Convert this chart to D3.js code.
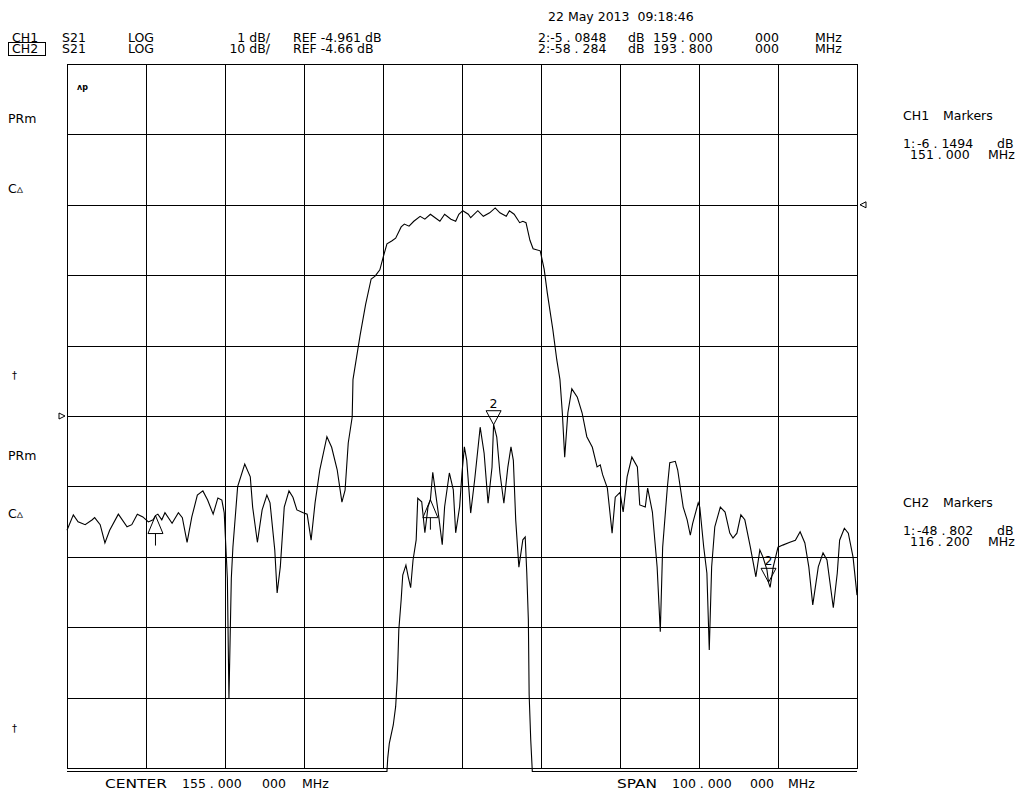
<!DOCTYPE html>
<meta charset="utf-8">
<style>

body {
  margin: 0;
  background: #fff;
}

svg text {
  font-family: "DejaVu Sans", "Liberation Sans", sans-serif;
  font-size: 12.5px;
  fill: #000;
  white-space: pre;
}

</style>
<svg width="1028" height="795"></svg>
<script src="https://cdn.jsdelivr.net/npm/d3@7/dist/d3.min.js"></script>
<script>

// sweep: center 155 MHz, span 100 MHz
var startMHz = 105,
    stopMHz = 205,
    divisions = 10;

// channel settings (reference value, dB per division, reference line counted from top)
var ch1Ref = -4.961, ch1PerDiv = 1, ch1RefLine = 5;
var ch2Ref = -4.66, ch2PerDiv = 10, ch2RefLine = 2;

// CH1 S21 trace (MHz / dB), values below the screen are pinned at the bottom
var ch1Freq = [105.0, 145.5, 145.6, 145.8, 146.3, 146.6, 146.8, 146.9, 147.0, 147.3,
  147.5, 147.9, 148.2, 148.5, 148.8, 149.2, 149.4, 149.9, 150.3, 150.7,
  151.0, 151.3, 152.0, 152.5, 152.8, 153.4, 153.9, 154.2, 154.7, 155.0,
  155.3, 155.6, 156.1, 156.6, 157.3, 157.8, 158.3, 158.8, 159.0, 159.4,
  159.8, 160.3, 160.8, 161.2, 161.5, 161.8, 162.2, 162.7, 163.0, 163.2,
  163.4, 163.5, 163.7, 163.9, 205.0];
var ch1Db = [-10.01, -10.01, -9.82, -9.61, -9.35, -9.09, -8.71, -8.38, -8.00, -7.57,
  -7.22, -7.08, -7.25, -7.40, -7.01, -6.72, -6.13, -6.18, -6.62, -6.25,
  -6.15, -5.76, -6.34, -6.79, -6.25, -5.77, -6.01, -6.62, -6.25, -5.77,
  -5.40, -5.59, -6.34, -5.87, -5.12, -5.49, -6.20, -5.69, -5.08, -5.26,
  -5.77, -6.20, -5.69, -5.40, -5.59, -6.44, -7.11, -6.72, -6.68, -7.19,
  -7.86, -8.92, -9.56, -10.01, -10.01];

// CH2 S21 trace (MHz / dB)
var ch2Freq = [105.0, 105.8, 106.4, 107.3, 108.2, 108.5, 109.2, 109.8, 110.4, 111.5,
  112.6, 113.2, 113.9, 114.6, 115.3, 115.9, 116.2, 116.5, 117.0, 117.4,
  118.3, 119.1, 119.6, 120.2, 120.8, 121.5, 122.2, 122.8, 123.5, 124.1,
  124.6, 124.9, 125.3, 125.5, 125.8, 126.0, 126.6, 127.5, 128.2, 128.5,
  129.1, 129.7, 130.3, 130.7, 131.3, 131.6, 132.0, 132.5, 133.1, 133.6,
  134.1, 134.9, 135.4, 135.9, 136.4, 137.0, 137.9, 138.5, 139.2, 139.8,
  140.2, 140.6, 141.1, 141.2, 141.6, 142.1, 142.8, 143.5, 144.0, 144.6,
  145.0, 145.5, 146.1, 146.6, 147.3, 147.7, 148.3, 148.9, 149.7, 150.3,
  151.0, 151.6, 152.2, 152.8, 153.6, 154.2, 154.6, 155.1, 155.8, 156.1,
  157.0, 157.7, 158.5, 159.2, 159.8, 160.6, 161.0, 161.6, 162.3, 162.7,
  163.1, 163.6, 164.0, 164.9, 165.4, 165.8, 166.5, 167.0, 167.4, 167.7,
  168.0, 168.4, 168.9, 169.6, 170.2, 170.8, 171.5, 172.1, 172.5, 172.8,
  173.4, 174.0, 174.4, 175.0, 175.4, 175.9, 176.5, 177.2, 177.5, 178.2,
  178.5, 179.1, 179.7, 180.1, 180.4, 181.0, 181.3, 182.0, 182.3, 183.0,
  183.5, 183.9, 184.2, 184.9, 185.1, 185.6, 186.0, 186.3, 186.6, 187.0,
  187.7, 188.3, 188.9, 189.3, 189.8, 190.3, 190.8, 191.5, 191.8, 192.2,
  192.7, 193.1, 193.6, 193.8, 194.0, 194.4, 195.0, 195.6, 196.5, 197.2,
  197.8, 198.4, 198.9, 199.4, 200.1, 200.7, 201.2, 202.0, 202.5, 202.8,
  203.4, 203.9, 204.5, 205.0];
var ch2Db = [-50.9, -48.7, -49.7, -50.1, -49.4, -49.1, -50.1, -52.7, -50.9, -48.6,
  -50.4, -50.1, -48.6, -49.0, -49.7, -49.4, -48.8, -48.6, -49.4, -48.4,
  -49.9, -48.4, -49.1, -52.6, -49.0, -45.9, -45.3, -46.6, -48.6, -46.3,
  -46.6, -48.4, -57.7, -74.8, -57.7, -53.3, -44.7, -41.5, -43.3, -47.6,
  -52.6, -48.0, -45.9, -47.0, -53.7, -59.8, -56.1, -47.6, -45.3, -46.2,
  -48.0, -48.4, -48.6, -52.3, -47.0, -42.3, -37.6, -39.1, -42.3, -46.9,
  -45.2, -38.5, -34.8, -29.5, -26.7, -23.2, -18.8, -15.2, -14.8, -13.9,
  -12.2, -10.2, -9.8, -9.4, -7.8, -7.4, -7.7, -7.0, -6.3, -6.7,
  -6.0, -6.5, -7.0, -6.0, -6.7, -7.0, -6.0, -5.5, -6.0, -6.5,
  -5.5, -6.3, -5.8, -5.1, -5.8, -6.3, -5.5, -6.0, -7.2, -7.0,
  -7.2, -9.7, -10.9, -11.2, -13.8, -17.2, -22.4, -26.7, -29.5, -34.2,
  -40.5, -34.2, -30.8, -32.0, -34.2, -37.6, -39.1, -41.9, -41.6, -43.0,
  -44.9, -51.3, -46.2, -45.5, -48.3, -43.3, -40.5, -41.9, -47.3, -47.6,
  -44.9, -48.3, -56.1, -65.3, -53.3, -44.7, -41.3, -41.1, -42.3, -47.6,
  -49.4, -51.6, -49.9, -47.0, -47.6, -53.3, -57.0, -67.9, -56.1, -50.4,
  -47.6, -48.3, -51.3, -52.0, -51.3, -48.7, -49.4, -53.3, -55.1, -57.5,
  -53.7, -54.7, -56.5, -58.3, -59.0, -56.1, -53.3, -53.0, -52.6, -52.3,
  -51.1, -52.7, -56.1, -61.5, -56.1, -54.1, -55.1, -61.9, -57.0, -52.3,
  -50.6, -51.3, -54.7, -60.1];

// markers
var markerChannel = [1, 1, 2, 2];
var markerNumber = [1, 2, 1, 2];
var markerFreq = [151.0, 159.0, 116.2, 193.8];
var markerDb = [-6.1494, -5.0848, -48.802, -58.284];

// texts, split where the instrument leaves wide gaps
var dateText = "22 May 2013  09:18:46";
var header1 = ["CH1", "S21", "LOG", "1 dB/", "REF -4.961 dB", "2:-5 . 0848", "dB", "159 . 000", "000", "MHz"];
var header2 = ["CH2", "S21", "LOG", "10 dB/", "REF -4.66 dB", "2:-58 . 284", "dB", "193 . 800", "000", "MHz"];
var sideLabels = ["PRm", "C\u25B5", "\u2020", "PRm", "C\u25B5", "\u2020"];
var ch1Readout = [["CH1", "Markers"], ["1:", "-6 . 1494", "dB"], ["151 . 000", "MHz"]];
var ch2Readout = [["CH2", "Markers"], ["1:", "-48 . 802", "dB"], ["116 . 200", "MHz"]];
var footerLeft = ["CENTER", "155 . 000", "000", "MHz"];
var footerRight = ["SPAN", "100 . 000", "000", "MHz"];

var svg = d3.select("svg"),
    plot = {left: 67, right: 857, top: 64, bottom: 768};

var x = d3.scaleLinear()
    .domain([startMHz, stopMHz])
    .range([plot.left, plot.right]);

var y1 = d3.scaleLinear()
    .domain([ch1Ref - (divisions - ch1RefLine) * ch1PerDiv, ch1Ref + ch1RefLine * ch1PerDiv])
    .range([plot.bottom, plot.top]);

var y2 = d3.scaleLinear()
    .domain([ch2Ref - (divisions - ch2RefLine) * ch2PerDiv, ch2Ref + ch2RefLine * ch2PerDiv])
    .range([plot.bottom, plot.top]);

function crisp(v) { return Math.round(v) + 0.5; }

// graticule
var grid = svg.append("g")
    .attr("stroke", "#000")
    .attr("stroke-width", 1)
    .attr("shape-rendering", "crispEdges");

var xLines = d3.range(divisions + 1).map(function(i) { return startMHz + i * (stopMHz - startMHz) / divisions; });
var yLines = d3.range(divisions + 1).map(function(i) { return y1.domain()[0] + i * ch1PerDiv; });

grid.selectAll(".v")
  .data(xLines)
  .enter().append("line")
    .attr("x1", function(d) { return crisp(x(d)); })
    .attr("x2", function(d) { return crisp(x(d)); })
    .attr("y1", plot.top)
    .attr("y2", plot.bottom + 1);

grid.selectAll(".h")
  .data(yLines)
  .enter().append("line")
    .attr("x1", plot.left)
    .attr("x2", plot.right + 1)
    .attr("y1", function(d) { return crisp(y1(d)); })
    .attr("y2", function(d) { return crisp(y1(d)); });

// traces
var line1 = d3.line()
    .x(function(d) { return x(d[0]); })
    .y(function(d) { return y1(d[1]); });

var line2 = d3.line()
    .x(function(d) { return x(d[0]); })
    .y(function(d) { return y2(d[1]); });

svg.append("path")
    .datum(d3.zip(ch1Freq, ch1Db))
    .attr("fill", "none")
    .attr("stroke", "#000")
    .attr("stroke-width", 1.1)
    .attr("d", line1);

svg.append("path")
    .datum(d3.zip(ch2Freq, ch2Db))
    .attr("fill", "none")
    .attr("stroke", "#000")
    .attr("stroke-width", 1.1)
    .attr("d", line2);

// reference position arrows
svg.append("path")
    .attr("fill", "#fff")
    .attr("stroke", "#000")
    .attr("d", "M" + (plot.left - 8) + "," + (y1(ch1Ref) - 3) + "L" + (plot.left - 2) + "," + y1(ch1Ref) +
               "L" + (plot.left - 8) + "," + (y1(ch1Ref) + 3) + "Z");

svg.append("path")
    .attr("fill", "#fff")
    .attr("stroke", "#000")
    .attr("d", "M" + (plot.right + 9) + "," + (y2(ch2Ref) - 3) + "L" + (plot.right + 3) + "," + y2(ch2Ref) +
               "L" + (plot.right + 9) + "," + (y2(ch2Ref) + 3) + "Z");

// markers
var mk = svg.append("g")
    .attr("fill", "none")
    .attr("stroke", "#000");

d3.range(markerFreq.length).forEach(function(i) {
  var px = x(markerFreq[i]),
      py = markerChannel[i] === 1 ? y1(markerDb[i]) : y2(markerDb[i]);
  if (markerNumber[i] === 2) {
    mk.append("path")
        .attr("d", "M" + px + "," + py + "L" + (px - 7.5) + "," + (py - 14) + "L" + (px + 7.5) + "," + (py - 14) + "Z");
    svg.append("text")
        .attr("x", px)
        .attr("y", py - 17)
        .attr("text-anchor", "middle")
        .text(markerNumber[i]);
  } else {
    mk.append("path")
        .attr("d", "M" + px + "," + py + "L" + (px - 7.5) + "," + (py + 18) + "L" + (px + 7.5) + "," + (py + 18) + "Z" +
                   "M" + px + "," + (py + 18) + "V" + (py + 30));
  }
});

function put(t, px, py, anchor) {
  return svg.append("text")
      .attr("x", px)
      .attr("y", py)
      .attr("text-anchor", anchor || "start")
      .text(t);
}

// header
put(dateText, 548, 21);

var headerX = [12, 62, 128, 270, 293, 538, 628, 653, 755, 815];
[header1, header2].forEach(function(row, r) {
  row.forEach(function(t, c) {
    put(t, headerX[c], r === 0 ? 42 : 53, c === 3 ? "end" : "start");
  });
});

// active channel box
svg.append("rect")
    .attr("x", 8.5).attr("y", 42.5)
    .attr("width", 37).attr("height", 13)
    .attr("fill", "none")
    .attr("stroke", "#000");

// small annotation inside the graticule
put("\u028Cp", 77, 90)
    .style("font-size", "8px")
    .style("font-weight", "bold");

// left annotations
var sideY = [123, 193, 379, 460, 518, 732];
sideLabels.forEach(function(t, i) {
  put(t, t === "\u2020" ? 12 : 8, sideY[i])
      .style("font-size", t === "\u2020" ? "10px" : null);
});

// marker readouts
var readX = [[903, 943], [903, 917, 997], [910, 988]];
[[ch1Readout, [120, 148, 159]], [ch2Readout, [507, 535, 546]]].forEach(function(p) {
  p[0].forEach(function(row, r) {
    row.forEach(function(t, c) {
      put(t, readX[r][c], p[1][r]);
    });
  });
});

// footer
var footLeftX = [105, 182, 262, 302],
    footRightX = [617, 672, 750, 788];
footerLeft.forEach(function(t, i) {
  var el = put(t, footLeftX[i], 788);
  if (i === 0) el.attr("textLength", 62).attr("lengthAdjust", "spacingAndGlyphs");
});
footerRight.forEach(function(t, i) {
  var el = put(t, footRightX[i], 788);
  if (i === 0) el.attr("textLength", 40).attr("lengthAdjust", "spacingAndGlyphs");
});

</script>
